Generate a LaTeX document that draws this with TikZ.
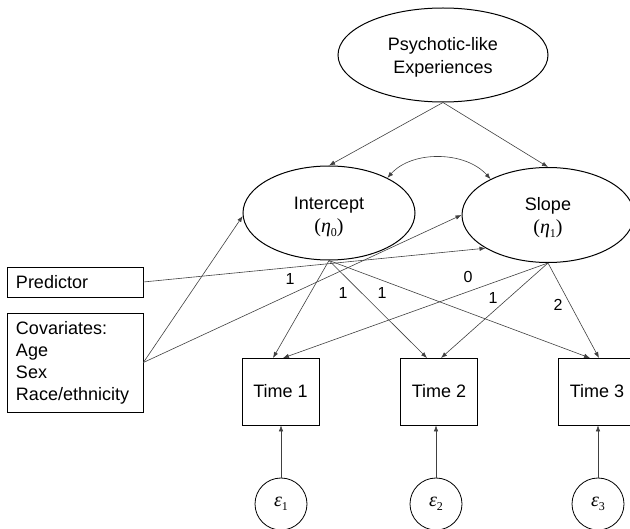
\documentclass[tikz,border=0pt]{standalone}
\usepackage{fontspec}
\setmainfont{Liberation Sans}
\newfontfamily\camfont{Liberation Serif}
\newcommand{\grk}[2]{{\camfont\itshape #1}{\camfont\fontsize{12}{12}\selectfont\raisebox{-3.5pt}{#2}}}
\usetikzlibrary{shapes.geometric,arrows.meta,calc}
\tikzset{
 lat/.style={ellipse,draw,line width=1pt,inner sep=0pt},
 lattext/.style={inner sep=0pt,font=\fontsize{18}{23}\selectfont,align=center},
 obs/.style={rectangle,draw,line width=0.8pt,inner sep=0pt,font=\fontsize{18}{22}\selectfont,align=center},
 errv/.style={circle,draw,line width=0.8pt,minimum size=52pt,inner sep=0pt,font=\fontsize{20}{22}\selectfont},
 tip/.tip={Latex[length=6pt,width=4.5pt]},
 conn/.style={-tip,line width=0.6pt,black!75},
 lab/.style={font=\fontsize{16}{18}\selectfont,inner sep=0pt},
}
\begin{document}
\begin{tikzpicture}[x=1pt,y=-1pt]
\useasboundingbox (0,0) rectangle (630,529);
\clip (0,0) rectangle (630,529);
\node[lat,minimum width=210pt,minimum height=94pt] (pe) at (443,55) {};
\node[lattext] (pet) at (443,57) {Psychotic-like\\Experiences};
\node[lat,minimum width=172pt,minimum height=94pt] (int) at (329,213) {};
\node[lattext] (intt) at (329,217) {Intercept\\{\camfont\fontsize{20}{20}\selectfont(\grk{η}{0})}};
\node[lat,minimum width=172pt,minimum height=95pt] (slo) at (548,215) {};
\node[lattext] (slot) at (548,218) {Slope\\{\camfont\fontsize{20}{20}\selectfont(\grk{η}{1})}};
\node[obs,minimum width=136pt,minimum height=30pt,text width=118pt,align=left] (pred) at (75,282) {Predictor};
\node[obs,minimum width=136pt,minimum height=99pt,text width=118pt,align=left] (cov) at (75,362.5) {Covariates:\\Age\\Sex\\Race/ethnicity};
\node[obs,minimum width=77pt,minimum height=67pt] (t1) at (280.5,391.5) {Time 1};
\node[obs,minimum width=77pt,minimum height=67pt] (t2) at (439,391.5) {Time 2};
\node[obs,minimum width=77pt,minimum height=67pt] (t3) at (597,391.5) {Time 3};
\node[errv] (e1) at (281,504) {\grk{ε}{1}};
\node[errv] (e2) at (436,504) {\grk{ε}{2}};
\node[errv] (e3) at (598,504) {\grk{ε}{3}};
\coordinate (t1a) at (273,358);
\coordinate (t1b) at (283,358);
\coordinate (t2a) at (427,358);
\coordinate (t2b) at (441,358);
\coordinate (t3a) at (590,358);
\coordinate (t3b) at (599,358);
% structural paths
\draw[conn] (pe.south) -- (int.north);
\draw[conn] (pe.south) -- (slo.north);
\draw[conn,tip-tip] (int.31) .. controls ($(int.31)+(25,-28)$) and ($(slo.148)+(-25,-28)$) .. (slo.148);
\draw[conn] (pred.east) -- (slo.208);
\draw[conn] (cov.east) -- (int.182);
\draw[conn] (cov.east) -- (slo.west);
% loadings
\draw[conn] (int.south) -- (t1a);
\draw[conn] (int.south) -- (t2a);
\draw[conn] (int.south) -- (t3a);
\draw[conn] (slo.south) -- (t1b);
\draw[conn] (slo.south) -- (t2b);
\draw[conn] (slo.south) -- (t3b);
% errors
\draw[conn] (e1.north) -- (e1.north |- t1.south);
\draw[conn] (e2.north) -- (e2.north |- t2.south);
\draw[conn] (e3.north) -- (e3.north |- t3.south);
% labels
\node[lab] (l1) at (290,279) {1};
\node[lab] (l2) at (343,293) {1};
\node[lab] (l3) at (382,293) {1};
\node[lab] (l4) at (468,277) {0};
\node[lab] (l5) at (493,298) {1};
\node[lab] (l6) at (558,305) {2};
\end{tikzpicture}
\end{document}
